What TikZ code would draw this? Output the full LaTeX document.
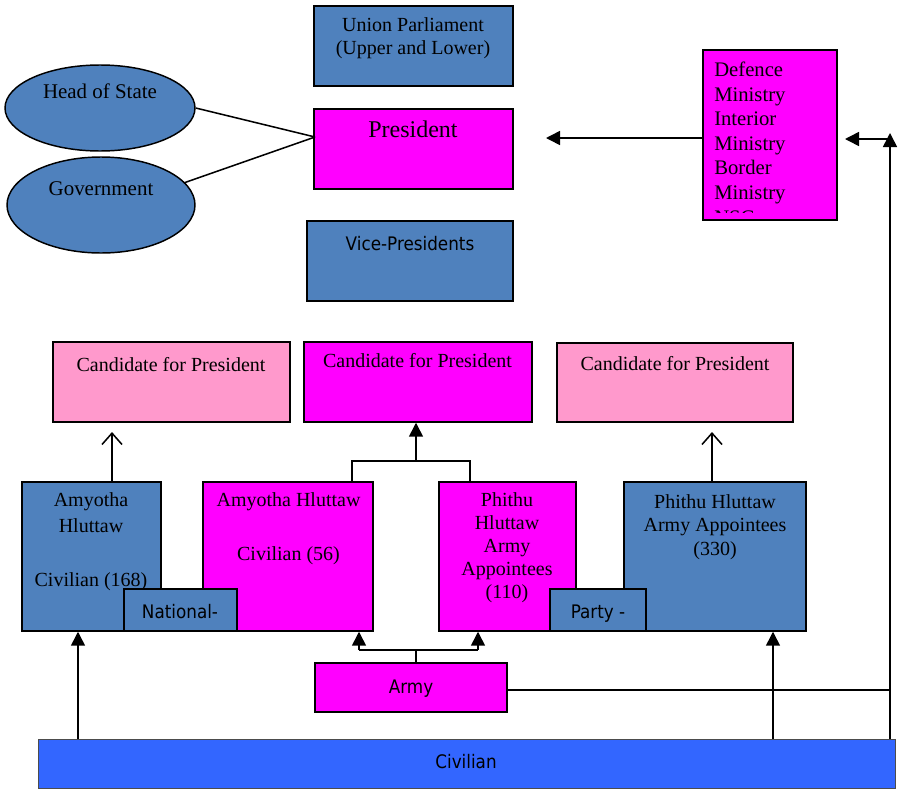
\documentclass[tikz,border=0pt]{standalone}
\usepackage{fontspec}
\setmainfont{Liberation Serif}
\newfontfamily\sansf[FakeStretch=0.9]{DejaVu Sans}
\usetikzlibrary{arrows.meta,shapes.geometric,calc}
\definecolor{boxblue}{HTML}{4F81BD}
\definecolor{magbox}{HTML}{FF00FF}
\definecolor{pinkbox}{HTML}{FF99CC}
\definecolor{civblue}{HTML}{3366FF}
\begin{document}
\begin{tikzpicture}[x=0.75pt,y=-0.75pt,
  box/.style={draw=black,line width=1.1pt,inner sep=0pt},
  bluebox/.style={box,fill=boxblue},
  magentabox/.style={box,fill=magbox},
  pinkfill/.style={box,fill=pinkbox},
  oval/.style={ellipse,draw=black,line width=1.1pt,fill=boxblue,inner sep=0pt},
  txt/.style={inner sep=0pt,font=\fontsize{15}{17.5}\selectfont},
  stxt/.style={inner sep=0pt,font=\sansf\fontsize{14}{17}\selectfont},
  conn/.style={line width=1.15pt},
  arr/.style={conn,-{Triangle[length=10.5pt,width=10.5pt]}},
  openarr/.style={conn,-{Straight Barb[length=8.5pt,width=15pt]}}]
\useasboundingbox (0,0) rectangle (911,789);

% ---- top area ----
\node[bluebox, minimum width=149.25pt, minimum height=60pt] (union) at (413.5,46) {};
\node[txt, align=center, anchor=north] (unionT) at (413,17) {Union Parliament\\(Upper and Lower)};

\node[magentabox, minimum width=149.25pt, minimum height=60pt] (pres) at (413.5,149) {};
\node[inner sep=0pt, anchor=base, font=\fontsize{18}{21}\selectfont] (presT) at (413,137) {President};

\node[bluebox, minimum width=154.5pt, minimum height=60pt] (vice) at (410,261) {};
\node[stxt, anchor=base] (viceT) at (410,250) {Vice-Presidents};

\node[oval, minimum width=142.5pt, minimum height=64.5pt] (hos) at (100,108) {};
\node[inner sep=0pt, anchor=base, font=\fontsize{15.7}{18}\selectfont] (hosT) at (100,98) {Head of State};
\node[oval, minimum width=141pt, minimum height=72pt] (gov) at (101,205) {};
\node[inner sep=0pt, anchor=base, font=\fontsize{15.7}{18}\selectfont] (govT) at (101,195) {Government};

\coordinate (pj) at (315,137);
\draw[conn] (hos.east) -- (pj);
\draw[conn] (gov.15) -- (pj);

\node[magentabox, minimum width=100.5pt, minimum height=127.5pt] (def) at (770,135) {};
\begin{scope}
  \clip (704,51) rectangle (836,212);
  \node[inner sep=0pt, align=left, anchor=north west, font=\fontsize{15.5}{18.4}\selectfont] (defT) at (714,62) {Defence\\Ministry\\Interior\\Ministry\\Border\\Ministry\\NSC};
\end{scope}

\coordinate (ptip) at (546,138);
\draw[arr] (def.west |- ptip) -- (ptip);

% ---- candidates ----
\node[pinkfill, minimum width=177.75pt, minimum height=60pt] (candL) at (171.5,382) {};
\node[txt, anchor=base] (candLT) at (171,371) {Candidate for President};
\node[magentabox, minimum width=171pt, minimum height=60pt] (candM) at (418,382) {};
\node[txt, anchor=base] (candMT) at (417.5,367) {Candidate for President};
\node[pinkfill, minimum width=177pt, minimum height=59.25pt] (candR) at (675,382.5) {};
\node[txt, anchor=base] (candRT) at (675,370) {Candidate for President};

% ---- chambers ----
\node[bluebox, minimum width=104.25pt, minimum height=111.75pt] (amyC) at (91.5,556.5) {};
\node[txt, align=center, anchor=north, font=\fontsize{15}{19.5}\selectfont] (amyCT) at (91,492) {Amyotha\\Hluttaw\\[21pt]Civilian (168)};
\node[magentabox, minimum width=127.5pt, minimum height=111.75pt] (amyM) at (288,556.5) {};
\node[txt, align=center, anchor=north, font=\fontsize{15}{19.5}\selectfont] (amyMT) at (288.5,492) {Amyotha Hluttaw\\[21pt]Civilian (56)};
\node[bluebox, minimum width=84.75pt, minimum height=31.5pt] (nat) at (180.5,610) {};
\node[stxt, anchor=base] (natT) at (180,618) {National-};

\node[magentabox, minimum width=102.75pt, minimum height=111.75pt] (phiM) at (507.5,556.5) {};
\node[txt, align=center, anchor=north, font=\fontsize{15}{17.3}\selectfont] (phiMT) at (507,492) {Phithu\\Hluttaw\\Army\\Appointees\\(110)};
\node[bluebox, minimum width=136.5pt, minimum height=111.75pt] (phiC) at (715,556.5) {};
\node[txt, align=center, anchor=north, font=\fontsize{15}{17.6}\selectfont] (phiCT) at (715,494) {Phithu Hluttaw\\Army Appointees\\(330)};
\node[bluebox, minimum width=72pt, minimum height=31.5pt] (party) at (598,610) {};
\node[stxt, anchor=base] (partyT) at (598,618) {Party -};

% ---- army and civilian ----
\node[magentabox, minimum width=144pt, minimum height=36.75pt] (army) at (411,687.5) {};
\node[stxt, anchor=base] (armyT) at (411,693) {Army};
\node[draw=black!70, line width=0.6pt, fill=civblue, inner sep=0pt, minimum width=642.75pt, minimum height=36.75pt] (civ) at (466.5,763.5) {};
\node[stxt, anchor=base] (civT) at (466,768) {Civilian};

% ---- connectors to candidates ----
\coordinate (aL) at (112,432);
\draw[openarr] (aL |- amyC.north) -- (aL);
\coordinate (aR) at (712,432);
\draw[openarr] (aR |- phiC.north) -- (aR);

\coordinate (ml) at (352,461);
\coordinate (mr) at (470,461);
\coordinate (mj) at (416,461);
\draw[conn] (ml |- amyM.north) -- (ml) -- (mr) -- (mr |- phiM.north);
\draw[arr] (mj) -- (mj |- candM.south);

% ---- army connectors ----
\coordinate (al) at (359,650);
\coordinate (ar) at (478,650);
\coordinate (ac) at (416,650);
\draw[conn] (ac |- army.north) -- (ac);
\draw[conn] (al) -- (ar);
\draw[arr] (al) -- (al |- amyM.south);
\draw[arr] (ar) -- (ar |- phiM.south);
\coordinate (ae) at (889,690);
\draw[conn] (army.east |- ae) -- (ae);

% ---- civilian connectors ----
\coordinate (cl) at (78,700);
\draw[arr] (cl |- civ.north) -- (cl |- amyC.south);
\coordinate (cm) at (773,700);
\draw[arr] (cm |- civ.north) -- (cm |- phiC.south);
\coordinate (cup) at (890,133);
\draw[arr] (cup |- civ.north) -- (cup);
\coordinate (dtip) at (845,139);
\draw[arr] (cup |- dtip) -- (dtip);
\end{tikzpicture}
\end{document}
